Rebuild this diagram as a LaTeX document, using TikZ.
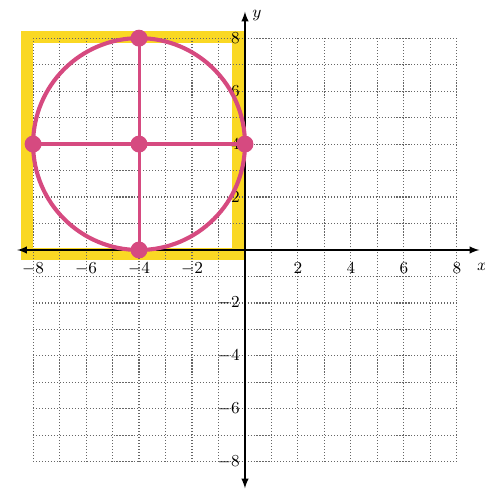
\documentclass[tikz,border=0pt]{standalone}
\usepackage{amsmath}
\usepackage{tikz}
\usetikzlibrary{calc}
\definecolor{marker}{RGB}{214,74,128}
\definecolor{highlight}{RGB}{250,216,36}

\begin{document}
\begin{tikzpicture}[x=0.5cm,y=0.5cm]
    \useasboundingbox (-9.25,-9.44) rectangle (9.06,9.44);
    \def\r{4}
    \coordinate (c) at (-4, 4);
    \coordinate (top) at (-4, 8);
    \coordinate (bot) at (-4, 0);
    \coordinate (lft) at (-8, 4);
    \coordinate (rgt) at (0, 4);
    % highlighted square
    \draw[highlight, line width=6.5pt] (-8.23,-0.15) rectangle (-0.26,8.05);
    % grid
    \draw[gray!80!black, densely dotted, line width=0.6pt, step=0.5cm] (-8,-8) grid (8,8);
    % axes
    \draw[latex-latex, line width=0.8pt] (-8.6,0) -- (8.85,0);
    \draw[latex-latex, line width=0.8pt] (0,-9.0) -- (0,9.0);
    \node at (8.95,-0.65) {\small$x$};
    \node at (0.45,8.85) {\small$y$};
    \foreach \t in {-8,-6,-4,-2,2,4,6,8} {
        \node[font=\small] at (\t,-0.7) {$\t$};
        \node[font=\small, left] at (0.05,\t) {$\t$};
    }
    % circle and diameters
    \draw[marker, line width=2.2pt] (c) circle (\r);
    \draw[marker, line width=2pt] (lft) -- (rgt);
    \draw[marker, line width=1.6pt] (top) -- (bot);
    \fill[marker] (c) circle (0.32);
    \fill[marker] (top) circle (0.32);
    \fill[marker] (bot) circle (0.32);
    \fill[marker] (lft) circle (0.32);
    \fill[marker] (rgt) circle (0.32);
\end{tikzpicture}
\end{document}
